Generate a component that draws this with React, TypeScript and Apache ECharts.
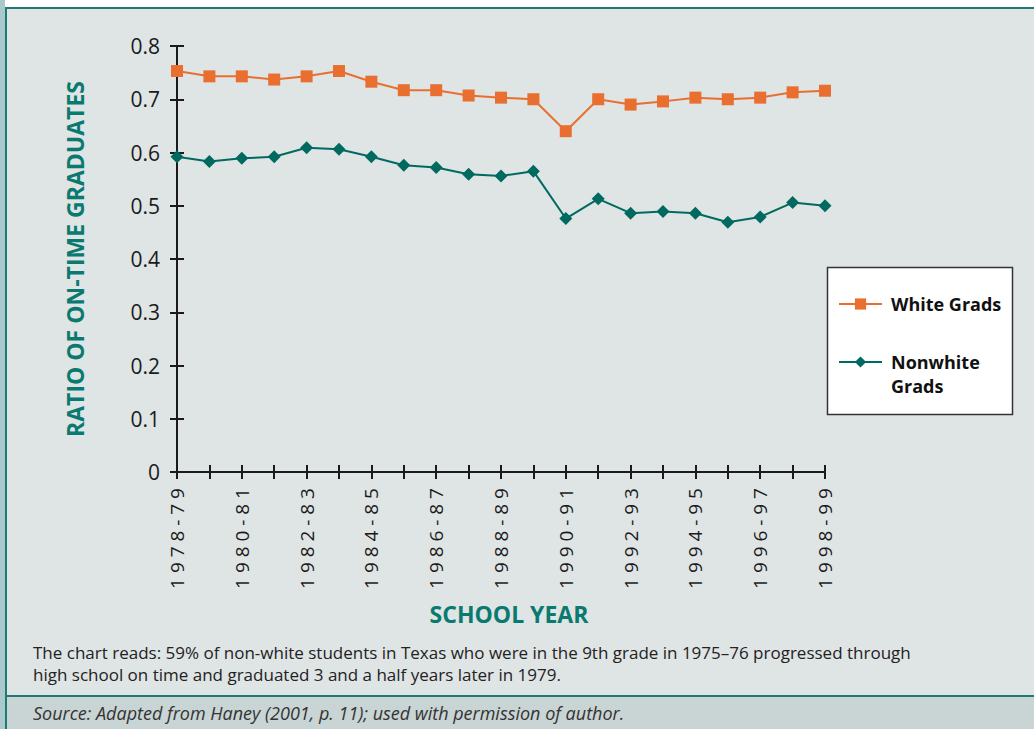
import React, { useEffect, useRef } from "react";
import * as echarts from "echarts";

const years = [
  "1978-79", "1979-80", "1980-81", "1981-82", "1982-83", "1983-84", "1984-85",
  "1985-86", "1986-87", "1987-88", "1988-89", "1989-90", "1990-91", "1991-92",
  "1992-93", "1993-94", "1994-95", "1995-96", "1996-97", "1997-98", "1998-99",
];
const whiteGrads = [
  0.753, 0.743, 0.743, 0.737, 0.743, 0.753, 0.733, 0.717, 0.717, 0.707, 0.703,
  0.7, 0.64, 0.7, 0.69, 0.696, 0.703, 0.7, 0.703, 0.713, 0.716,
];
const nonwhiteGrads = [
  0.592, 0.583, 0.589, 0.592, 0.609, 0.606, 0.592, 0.576, 0.572, 0.559, 0.556,
  0.565, 0.476, 0.513, 0.486, 0.489, 0.486, 0.469, 0.479, 0.506, 0.5,
];
const seriesNames = ["White Grads", "Nonwhite Grads"];
const yAxisTitle = "RATIO OF ON-TIME GRADUATES";
const xAxisTitle = "SCHOOL YEAR";
const noteLines = [
  "The chart reads: 59% of non-white students in Texas who were in the 9th grade in 1975\u201376 progressed through",
  "high school on time and graduated 3 and a half years later in 1979.",
];
const sourceText = "Source: Adapted from Haney (2001, p. 11); used with permission of author.";

const ORANGE = "#e86f30";
const TEAL = "#006a60";
const TITLE_TEAL = "#0a7a70";
const FRAME = "#1f7a73";
const FONT = "'Open Sans', 'Noto Sans', sans-serif";

export default function App() {
  const ref = useRef<HTMLDivElement>(null);

  useEffect(() => {
    document.body.style.margin = "0";
    const chart = echarts.init(ref.current!, null, { renderer: "svg" });
    const yLabelFmt = (v: number) => (v === 0 ? "0" : v.toFixed(1));
    const commonY = { type: "value", min: 0, max: 0.8, interval: 0.1 } as any;
    const commonX = { type: "category", data: years, boundaryGap: false } as any;

    chart.setOption({
      animation: false,
      backgroundColor: "#dfe4e4",
      textStyle: { fontFamily: FONT },
      grid: { left: 177, right: 209, top: 46, bottom: 257, containLabel: false },
      xAxis: [
        {
          ...commonX,
          name: xAxisTitle,
          nameLocation: "middle",
          nameGap: 130,
          nameTextStyle: {
            color: TITLE_TEAL,
            fontWeight: "bold",
            fontSize: 23,
            fontFamily: FONT,
            padding: [0, 0, 0, 16],
          },
          axisLine: { lineStyle: { color: "#1a1a1a", width: 2 } },
          axisTick: { show: true, interval: 0, length: 7, lineStyle: { color: "#1a1a1a", width: 2 } },
          axisLabel: {
            interval: 1,
            rotate: 90,
            margin: 16,
            color: "#1a1a1a",
            fontSize: 19,
            fontFamily: FONT,
            formatter: (v: string) => v.split("").join(" "),
          },
          splitLine: { show: false },
        },
        {
          ...commonX,
          position: "bottom",
          axisLine: { show: false },
          axisTick: { show: true, inside: true, interval: 0, length: 7, lineStyle: { color: "#1a1a1a", width: 2 } },
          axisLabel: { show: false },
          splitLine: { show: false },
        },
      ],
      yAxis: [
        {
          ...commonY,
          name: yAxisTitle,
          nameLocation: "middle",
          nameRotate: 90,
          nameGap: 91,
          nameTextStyle: { color: TITLE_TEAL, fontWeight: "bold", fontSize: 23, fontFamily: FONT },
          axisLine: { show: true, lineStyle: { color: "#1a1a1a", width: 2 } },
          axisTick: { show: true, length: 7, lineStyle: { color: "#1a1a1a", width: 2 } },
          axisLabel: { margin: 17, color: "#1a1a1a", fontSize: 21, fontFamily: FONT, formatter: yLabelFmt },
          splitLine: { show: false },
        },
        {
          ...commonY,
          position: "left",
          axisLine: { show: false },
          axisTick: { show: true, inside: true, length: 7, lineStyle: { color: "#1a1a1a", width: 2 } },
          axisLabel: { show: false },
          splitLine: { show: false },
        },
      ],
      legend: {
        orient: "vertical",
        left: 838,
        top: 292,
        padding: 0,
        itemGap: 10,
        itemWidth: 43,
        itemHeight: 14,
        textStyle: {
          color: "#111",
          fontWeight: "bold",
          fontSize: 18,
          fontFamily: FONT,
          lineHeight: 24,
          padding: [0, 0, 0, 4],
        },
        data: seriesNames,
        formatter: (name: string) => (name === seriesNames[1] ? "\nNonwhite\nGrads" : name),
      },
      graphic: [
        { type: "rect", z: -10, shape: { x: 0, y: 0, width: 1034, height: 7 }, style: { fill: "#ffffff" } },
        { type: "rect", z: -10, shape: { x: 0, y: 0, width: 5, height: 729 }, style: { fill: "#a9c9cc" } },
        { type: "rect", z: -10, shape: { x: 6, y: 697, width: 1028, height: 32 }, style: { fill: "#c9d4d4" } },
        { type: "line", z: -9, shape: { x1: 5, y1: 8, x2: 1034, y2: 8 }, style: { stroke: FRAME, lineWidth: 2 } },
        { type: "line", z: -9, shape: { x1: 6, y1: 7, x2: 6, y2: 729 }, style: { stroke: FRAME, lineWidth: 2 } },
        { type: "line", z: -9, shape: { x1: 5, y1: 696, x2: 1034, y2: 696 }, style: { stroke: FRAME, lineWidth: 2 } },
        {
          type: "rect",
          z: 1,
          shape: { x: 827.5, y: 267.5, width: 185, height: 147 },
          style: { fill: "#ffffff", stroke: "#333333", lineWidth: 1.5 },
        },
        {
          type: "text",
          left: 33,
          top: 641,
          style: { text: noteLines.join("\n"), fill: "#222", fontSize: 17, lineHeight: 22, fontFamily: FONT },
        },
        {
          type: "text",
          left: 33,
          top: 704,
          style: { text: sourceText, fill: "#333", fontSize: 18, fontStyle: "italic", fontFamily: FONT },
        },
      ],
      series: [
        {
          name: seriesNames[0],
          type: "line",
          data: whiteGrads,
          symbol: "rect",
          symbolSize: 12,
          lineStyle: { color: ORANGE, width: 2 },
          itemStyle: { color: ORANGE },
          z: 3,
        },
        {
          name: seriesNames[1],
          type: "line",
          data: nonwhiteGrads,
          symbol: "diamond",
          symbolSize: 13,
          lineStyle: { color: TEAL, width: 2 },
          itemStyle: { color: TEAL },
          z: 3,
        },
      ],
    });
    return () => chart.dispose();
  }, []);

  return (
    <div
      ref={ref}
      style={{ position: "fixed", left: 0, top: 0, width: 1034, height: 729 }}
    />
  );
}
